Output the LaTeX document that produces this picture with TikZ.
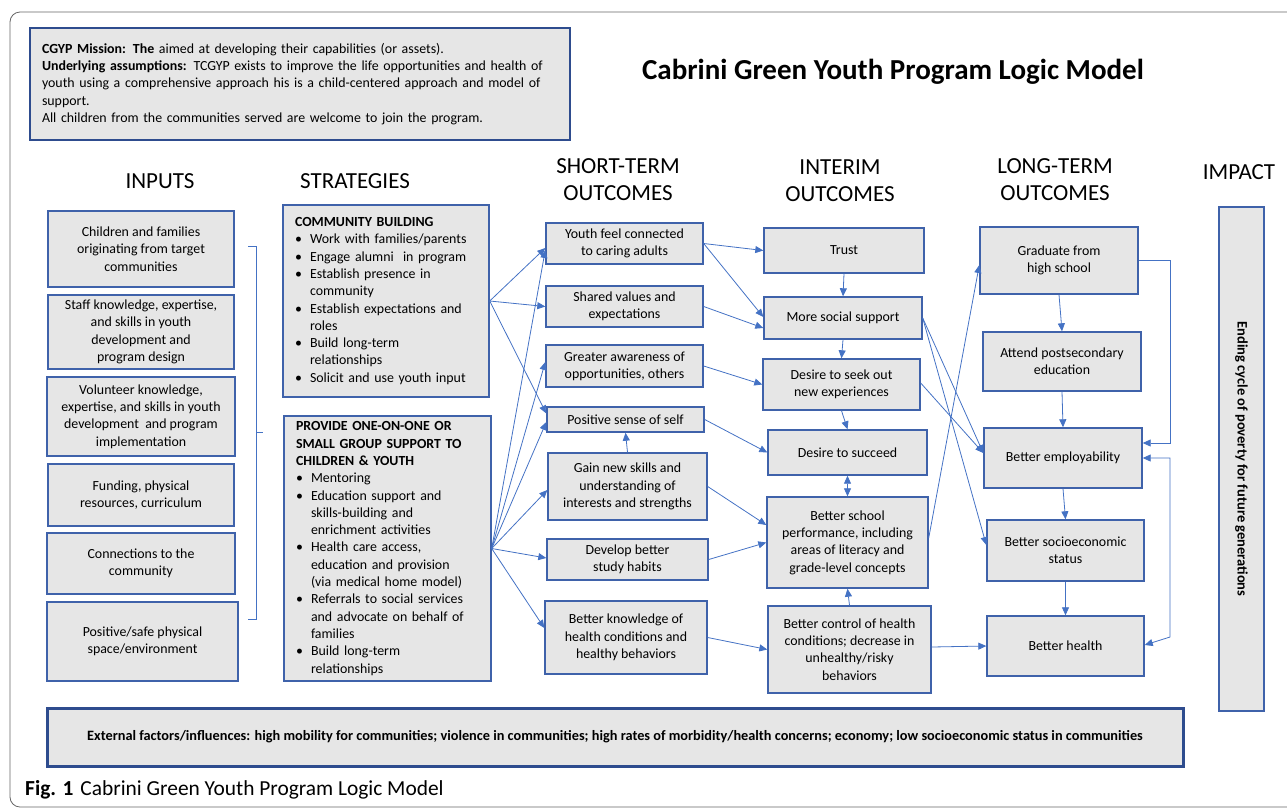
\documentclass[tikz,border=0pt]{standalone}
\usepackage{fontspec}
\setmainfont{Carlito}
\usetikzlibrary{arrows.meta}
\definecolor{boxfill}{HTML}{E6E6E6}
\definecolor{boxline}{HTML}{3F62AA}
\definecolor{linkblue}{HTML}{4472C4}
\definecolor{navy}{HTML}{2E4C8E}
\newcommand{\bul}{\makebox[15pt][l]{\textbullet}}
\newcommand{\cont}{\hspace*{15pt}}
\tikzset{
	box/.style={draw=boxline, fill=boxfill, line width=1.4pt, align=center, inner sep=2pt,
		font=\fontsize{13.9}{17.3}\selectfont},
	boxsize/.style 2 args={minimum width=#1pt, minimum height=#2pt},
	listbox/.style={box, align=left, inner xsep=12pt},
	link/.style={draw=linkblue, line width=0.8pt, -{Triangle[length=8pt,width=7pt]}},
	colhead/.style={font=\fontsize{23}{27}\selectfont, align=center},
}

\begin{document}
\begin{tikzpicture}[x=1pt, y=-1pt]
	\useasboundingbox (0,0) rectangle (1287,809);
	\draw[gray!80!black, line width=0.8pt, rounded corners=10pt] (1295,12) -- (10,12) -- (10,807) -- (1295,807);

	\node[box, boxsize={540}{112}, draw=navy, line width=2.6pt, align=left, text width=516pt, inner xsep=12pt] (mission) at (300,84)
		{\textbf{CGYP Mission: The} aimed at developing their capabilities (or assets).\\
		\textbf{Underlying assumptions:} TCGYP exists to improve the life opportunities and health of\\
		youth using a comprehensive approach his is a child-centered approach and model of\\
		support.\\
		All children from the communities served are welcome to join the program.};
	\node[font=\bfseries\fontsize{29}{32}\selectfont] (title) at (893,72) {Cabrini Green Youth Program Logic Model};

	\node[colhead] (hinputs) at (160,181) {INPUTS};
	\node[colhead] (hstrat) at (355,181) {STRATEGIES};
	\node[colhead] (hshort) at (618,180) {SHORT-TERM\\OUTCOMES};
	\node[colhead] (hinterim) at (840,181) {INTERIM\\OUTCOMES};
	\node[colhead] (hlong) at (1055,180) {LONG-TERM\\OUTCOMES};
	\node[colhead] (himpact) at (1239,172) {IMPACT};

	\node[box, boxsize={186}{76}] (in1) at (141,249) {Children and families\\originating from target\\communities};
	\node[box, boxsize={186}{74}] (in2) at (141,332) {Staff knowledge, expertise,\\and skills in youth\\development and\\program design};
	\node[box, boxsize={188}{79}] (in3) at (141,416.5) {Volunteer knowledge,\\expertise, and skills in youth\\development\ \ and program\\implementation};
	\node[box, boxsize={186}{62}] (in4) at (141,495) {Funding, physical\\resources, curriculum};
	\node[box, boxsize={188}{61}] (in5) at (141,563.5) {Connections to the\\community};
	\node[box, boxsize={191}{79}] (in6) at (142.5,641.5) {Positive/safe physical\\space/environment};
	\draw[linkblue, line width=0.6pt] (248,246) -- (256,246) -- (256,619) -- (248,619) (256,432) -- (263,432);

	\node[listbox, boxsize={206}{192}, text width=182pt] (sb1) at (386,301)
		{\textbf{COMMUNITY BUILDING}\\
		\bul Work with families/parents\\
		\bul Engage alumni\ \ in program\\
		\bul Establish presence in\\
		\cont community\\
		\bul Establish expectations and\\
		\cont roles\\
		\bul Build long-term\\
		\cont relationships\\
		\bul Solicit and use youth input};
	\node[listbox, boxsize={207}{265}, text width=183pt] (sb2) at (387.5,548.5)
		{\textbf{PROVIDE ONE-ON-ONE OR}\\
		\textbf{SMALL GROUP SUPPORT TO}\\
		\textbf{CHILDREN \& YOUTH}\\
		\bul Mentoring\\
		\bul Education support and\\
		\cont skills-building and\\
		\cont enrichment activities\\
		\bul Health care access,\\
		\cont education and provision\\
		\cont (via medical home model)\\
		\bul Referrals to social services\\
		\cont and advocate on behalf of\\
		\cont families\\
		\bul Build long-term\\
		\cont relationships};

	\node[box, boxsize={157}{41}] (st1) at (624.5,243.5) {Youth feel connected\\to caring adults};
	\node[box, boxsize={157}{41}] (st2) at (624.5,306.5) {Shared values and\\expectations};
	\node[box, boxsize={157}{42}] (st3) at (624.5,366) {Greater awareness of\\opportunities, others};
	\node[box, boxsize={157}{25}] (st4) at (625.5,419.5) {Positive sense of self};
	\node[box, boxsize={159}{67}] (st5) at (627.5,486.5) {Gain new skills and\\understanding of\\interests and strengths};
	\node[box, boxsize={161}{41}] (st6) at (627.5,559.5) {Develop better\\study habits};
	\node[box, boxsize={162}{73}] (st7) at (626,637.5) {Better knowledge of\\health conditions and\\healthy behaviors};

	\node[box, boxsize={160}{45}] (im1) at (844,250.5) {Trust};
	\node[box, boxsize={158}{42}] (im2) at (843,318) {More social support};
	\node[box, boxsize={157}{51}] (im3) at (841.5,384.5) {Desire to seek out\\new experiences};
	\node[box, boxsize={159}{45}] (im4) at (847.5,452.5) {Desire to succeed};
	\node[box, boxsize={161}{91}] (im5) at (847.5,542.5) {Better school\\performance, including\\areas of literacy and\\grade-level concepts};
	\node[box, boxsize={163}{87}] (im6) at (849.5,649.5) {Better control of health\\conditions; decrease in\\unhealthy/risky\\behaviors};

	\node[box, boxsize={158}{67}] (lt1) at (1059,260.5) {Graduate from\\high school};
	\node[box, boxsize={158}{59}] (lt2) at (1062,361.5) {Attend postsecondary\\education};
	\node[box, boxsize={158}{60}] (lt3) at (1063,458) {Better employability};
	\node[box, boxsize={157}{61}] (lt4) at (1065.5,550.5) {Better socioeconomic\\status};
	\node[box, boxsize={157}{60}] (lt5) at (1065.5,646) {Better health};

	\node[box, rotate=-90, boxsize={504}{45}, line width=1.2pt, font=\bfseries\fontsize{14.5}{16}\selectfont] (impact) at (1241.5,459) {Ending cycle of poverty for future generations};

	\node[box, boxsize={1136}{58}, draw=navy, line width=3pt, font=\bfseries\fontsize{14.3}{16}\selectfont] (external) at (615,737)
		{External factors/influences: high mobility for communities; violence in communities; high rates of morbidity/health concerns; economy; low socioeconomic status in communities};
	\node[anchor=west, font=\fontsize{21.4}{24}\selectfont, inner sep=0pt] (caption) at (25,790) {\textbf{Fig. 1}\hspace{7pt}Cabrini Green Youth Program Logic Model};

	\draw[link] (sb1.east) -- ([yshift=-4.5pt]st1.west);
	\draw[link] (sb1.east) -- (st2.west);
	\draw[link] (sb1.east) -- ([yshift=6pt]st4.west);
	\draw[link] (sb2.east) -- ([yshift=-6.5pt]st1.west);
	\draw[link] (sb2.east) -- ([yshift=4pt]st3.west);
	\draw[link] (sb2.east) -- ([yshift=-2.5pt]st4.west);
	\draw[link] (sb2.east) -- ([yshift=-3.5pt]st5.west);
	\draw[link] (sb2.east) -- ([yshift=1.5pt]st6.west);
	\draw[link] (sb2.east) -- ([yshift=9.5pt]st7.west);
	\draw[link] (st5.north) -- (st4.south);

	\draw[link] (st1.east) -- (im1.west);
	\draw[link] (st1.east) -- ([yshift=1pt]im2.west);
	\draw[link] (st2.east) -- ([yshift=-10pt]im2.west);
	\draw[link] (st3.east) -- (im3.west);
	\draw[link] (st4.east) -- (im4.west);
	\draw[link] (st5.east) -- ([yshift=17.5pt]im5.west);
	\draw[link] (st6.east) -- (im5.west);
	\draw[link] (st7.east) -- (im6.west);

	\draw[link] (im1.south) -- (im2.north);
	\draw[link] (im2.south) -- (im3.north);
	\draw[link] (im3.south) -- (im4.north);
	\draw[link, {Triangle[length=8pt,width=7pt]}-{Triangle[length=8pt,width=7pt]}] (im4.south) -- (im5.north);
	\draw[link] (im6.north) -- (im5.south);

	\draw[link] (im2.east) -- ([yshift=5pt]lt3.west);
	\draw[link] (im2.east) -- ([yshift=5.5pt]lt4.west);
	\draw[link] ([yshift=1.5pt]im3.east) -- ([yshift=5pt]lt3.west);
	\draw[link] ([yshift=4.5pt]im5.east) -- ([yshift=-4.5pt]lt1.west);
	\draw[link] ([yshift=2.5pt]im6.east) -- (lt5.west);

	\draw[link] (lt1.south) -- (lt2.north);
	\draw[link] (lt2.south) -- (lt3.north);
	\draw[link] (lt3.south) -- (lt4.north);
	\draw[link] (lt4.south) -- (lt5.north);

	\coordinate (rail) at (1170,0);
	\coordinate (railend) at (1170,637);
	\draw[link] (lt1.east) -- (lt1.east -| rail) |- ([yshift=15pt]lt3.east);
	\draw[link, {Triangle[length=8pt,width=7pt]}-{Triangle[length=8pt,width=7pt]}] (lt3.east) -- (lt3.east -| rail) -- (railend) -- ([yshift=1pt]lt5.east);
\end{tikzpicture}
\end{document}
